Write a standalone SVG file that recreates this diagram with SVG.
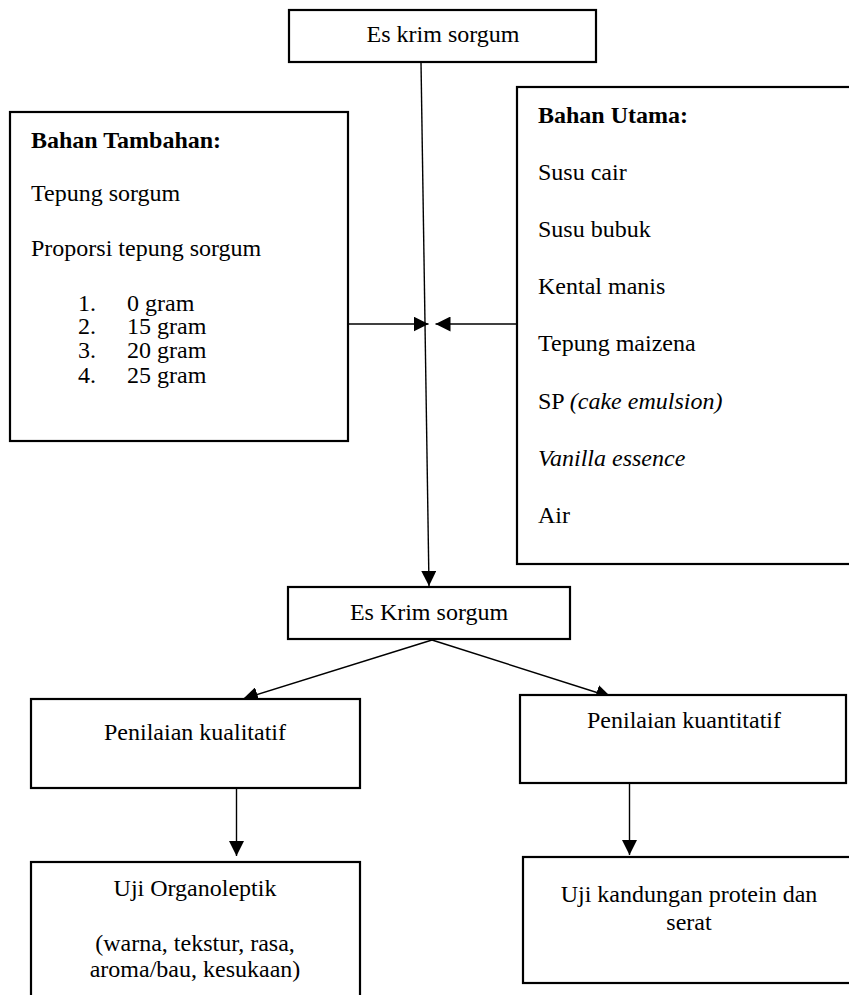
<svg xmlns="http://www.w3.org/2000/svg" width="849" height="995" viewBox="0 0 849 995">
<style>
.box{fill:#fff;stroke:#000;stroke-width:2.2}
.t{font-family:"Liberation Serif","Times New Roman",serif;font-size:24px;fill:#000}
.c{text-anchor:middle}
.b{font-weight:bold}
.i{font-style:italic}
.ln{stroke:#000;stroke-width:1.4;fill:none}
</style>
<defs>
<marker id="ah" markerUnits="userSpaceOnUse" markerWidth="15" markerHeight="15" refX="15" refY="7.5" orient="auto">
<path d="M0,0 L15,7.5 L0,15 Z" fill="#000"/>
</marker>
</defs>
<rect width="849" height="995" fill="#fff"/>
<g id="connectors">
<line class="ln" x1="421" y1="62" x2="429" y2="586" marker-end="url(#ah)"/>
<line class="ln" x1="348" y1="324" x2="428.5" y2="324" marker-end="url(#ah)"/>
<line class="ln" x1="517" y1="324" x2="435.5" y2="324" marker-end="url(#ah)"/>
<line class="ln" x1="432" y1="640" x2="243" y2="699" marker-end="url(#ah)"/>
<line class="ln" x1="432" y1="640" x2="611" y2="697" marker-end="url(#ah)"/>
<line class="ln" x1="236.5" y1="788" x2="236.5" y2="856" marker-end="url(#ah)"/>
<line class="ln" x1="629.5" y1="784" x2="629.5" y2="855" marker-end="url(#ah)"/>
</g>
<g id="top">
<rect class="box" x="289" y="10" width="307" height="52"/>
<text class="t c" x="443" y="42">Es krim sorgum</text>
</g>
<g id="bahan-tambahan">
<rect class="box" x="10" y="112" width="338" height="329"/>
<text class="t b" x="31" y="148">Bahan Tambahan:</text>
<text class="t" x="31" y="201">Tepung sorgum</text>
<text class="t" x="31" y="256">Proporsi tepung sorgum</text>
<text class="t" x="78" y="311">1.</text><text class="t" x="127" y="311">0 gram</text>
<text class="t" x="78" y="334">2.</text><text class="t" x="127" y="334">15 gram</text>
<text class="t" x="78" y="358">3.</text><text class="t" x="127" y="358">20 gram</text>
<text class="t" x="78" y="383">4.</text><text class="t" x="127" y="383">25 gram</text>
</g>
<g id="bahan-utama">
<rect class="box" x="517" y="87" width="340" height="477"/>
<text class="t b" x="538" y="123">Bahan Utama:</text>
<text class="t" x="538" y="180">Susu cair</text>
<text class="t" x="538" y="237">Susu bubuk</text>
<text class="t" x="538" y="294">Kental manis</text>
<text class="t" x="538" y="351">Tepung maizena</text>
<text class="t" x="538" y="409">SP <tspan class="i">(cake emulsion)</tspan></text>
<text class="t i" x="538" y="466">Vanilla essence</text>
<text class="t" x="538" y="523">Air</text>
</g>
<g id="es-krim">
<rect class="box" x="288" y="587" width="282" height="52"/>
<text class="t c" x="429" y="620">Es Krim sorgum</text>
</g>
<g id="kualitatif">
<rect class="box" x="31" y="699" width="329" height="89"/>
<text class="t c" x="195" y="740">Penilaian kualitatif</text>
</g>
<g id="kuantitatif">
<rect class="box" x="520" y="695" width="326" height="88"/>
<text class="t c" x="684" y="728">Penilaian kuantitatif</text>
</g>
<g id="organoleptik">
<rect class="box" x="31" y="862" width="329" height="145"/>
<text class="t c" x="195" y="896">Uji Organoleptik</text>
<text class="t c" x="195" y="951">(warna, tekstur, rasa,</text>
<text class="t c" x="195" y="977">aroma/bau, kesukaan)</text>
</g>
<g id="protein">
<rect class="box" x="523" y="857" width="334" height="126"/>
<text class="t c" x="689" y="902">Uji kandungan protein dan</text>
<text class="t c" x="689" y="930">serat</text>
</g>
</svg>
